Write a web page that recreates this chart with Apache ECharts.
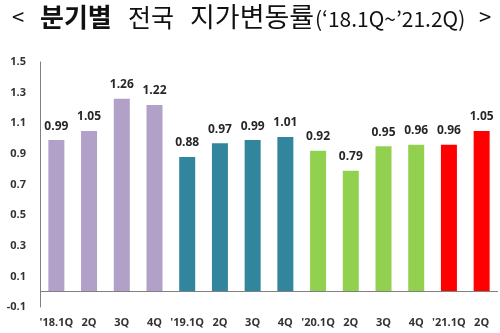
<!DOCTYPE html>
<html><head><meta charset="utf-8">
<script src="https://cdn.jsdelivr.net/npm/echarts@6/dist/echarts.min.js"></script>
<style>html,body{margin:0;padding:0;background:#fff}#c{width:500px;height:333px}</style>
</head><body><div id="c"></div>
<script>
var categories = ["'18.1Q","2Q","3Q","4Q","'19.1Q","2Q","3Q","4Q","'20.1Q","2Q","3Q","4Q","'21.1Q","2Q"];
var values = [0.99,1.05,1.26,1.22,0.88,0.97,0.99,1.01,0.92,0.79,0.95,0.96,0.96,1.05];
var barColors = ["#B1A0C7","#B1A0C7","#B1A0C7","#B1A0C7","#31859C","#31859C","#31859C","#31859C","#92D050","#92D050","#92D050","#92D050","#FF0000","#FF0000"];
var chart = echarts.init(document.getElementById('c'));
var tf = 'Noto Sans CJK KR';
chart.setOption({
  animation:false,
  graphic:[
    {type:'text',x:12,y:17,style:{text:'<',font:'22px "'+tf+'"',fill:'#111',verticalAlign:'middle'}},
    {type:'text',x:40,y:17,style:{text:'분기별',font:'bold 26px "'+tf+'"',fill:'#111',verticalAlign:'middle'}},
    {type:'text',x:128,y:17,style:{text:'전국',font:'25px "'+tf+'"',fill:'#111',verticalAlign:'middle'}},
    {type:'text',x:190,y:17,style:{text:'지가변동률',font:'27px "'+tf+'"',fill:'#111',verticalAlign:'middle'}},
    {type:'text',x:315,y:19,style:{text:'(\u201818.1Q~\u201921.2Q)',font:'21px "'+tf+'"',fill:'#111',verticalAlign:'middle'}},
    {type:'text',x:479,y:17,style:{text:'>',font:'22px "'+tf+'"',fill:'#111',verticalAlign:'middle'}}
  ],
  grid:{left:40,right:2,top:62,bottom:26},
  xAxis:{type:'category',data:categories,
    axisLine:{show:false},axisTick:{show:false},
    axisLabel:{margin:10,fontSize:11,fontWeight:'bold',color:'#333',fontFamily:'Open Sans',interval:0}},
  yAxis:{type:'value',min:-0.1,max:1.5,interval:0.1,
    splitLine:{show:false},axisTick:{show:false},
    axisLine:{show:true,lineStyle:{color:'#808080',width:1}},
    axisLabel:{margin:14,fontSize:11,fontWeight:'bold',color:'#333',fontFamily:'Open Sans',
      formatter:function(v){var n=Math.round(v*10);return (Math.abs(n)%2===1)?(n/10).toFixed(1):'';}}},
  series:[{type:'bar',barWidth:16,
    data:values.map(function(v,i){return {value:v,itemStyle:{color:barColors[i]}};}),
    label:{show:true,position:'top',distance:8,fontSize:12,fontWeight:'bold',color:'#262626',fontFamily:'Open Sans',
      formatter:function(p){return p.value.toFixed(2);}},
    markLine:{silent:true,symbol:'none',label:{show:false},
      lineStyle:{color:'#808080',type:'solid',width:1},data:[{yAxis:0}]}
  }]
});
</script></body></html>
